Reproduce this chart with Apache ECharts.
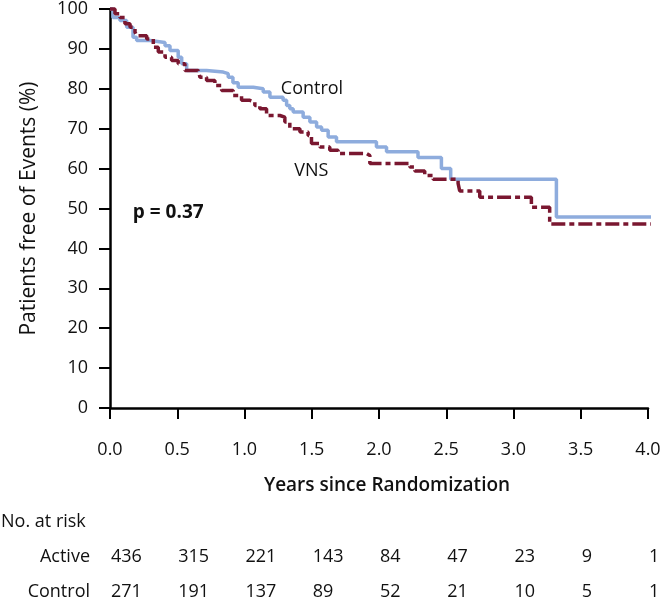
<!DOCTYPE html>
<html>
<head>
<meta charset="utf-8">
<script src="https://cdn.jsdelivr.net/npm/echarts@6/dist/echarts.min.js"></script>
<style>
  html, body { margin: 0; padding: 0; background: #fff; }
  #chart { width: 664px; height: 601px; }
</style>
</head>
<body>
<div id="chart"></div>
<script>
// Kaplan-Meier steps (years, % free of events)
const controlTimes = [0, 0.022, 0.074, 0.124, 0.171, 0.198, 0.297, 0.409, 0.446, 0.507, 0.533, 0.570, 0.718, 0.842, 0.879, 0.914, 0.953, 1.065, 1.139, 1.189, 1.287, 1.313, 1.337, 1.362, 1.436, 1.486, 1.536, 1.573, 1.622, 1.684, 1.981, 2.056, 2.290, 2.464, 2.533, 3.319, 4.098]
const controlSurv = [100, 97.9, 97.1, 95.4, 92.9, 92.1, 91.6, 90.8, 89.6, 87.9, 86.3, 84.6, 84.2, 83.8, 82.9, 81.5, 80.4, 80.0, 79.2, 77.9, 77.1, 75.8, 75.0, 74.2, 72.9, 71.7, 70.4, 69.6, 67.9, 66.7, 65.4, 64.2, 62.8, 60.0, 57.3, 47.9, 47.9]

const vnsTimes = [0, 0.037, 0.074, 0.111, 0.149, 0.186, 0.198, 0.273, 0.322, 0.359, 0.409, 0.458, 0.507, 0.557, 0.656, 0.669, 0.718, 0.780, 0.830, 0.916, 0.978, 1.040, 1.077, 1.114, 1.164, 1.263, 1.300, 1.337, 1.412, 1.473, 1.498, 1.560, 1.634, 1.696, 1.907, 1.932, 2.229, 2.266, 2.340, 2.402, 2.588, 2.600, 2.749, 3.133, 3.269, 4.098]
const vnsSurv = [100, 98.8, 97.9, 96.3, 95.4, 94.2, 93.3, 92.5, 90.4, 89.2, 87.9, 87.1, 86.3, 84.6, 84.2, 82.9, 82.1, 80.8, 79.6, 78.3, 77.1, 76.7, 75.8, 75.0, 73.3, 72.9, 71.7, 70.0, 69.2, 68.3, 66.3, 65.4, 64.6, 63.8, 63.3, 61.3, 60.4, 59.4, 58.3, 57.3, 56.3, 54.4, 52.8, 50.3, 46.1, 46.1]

// number at risk table
const riskTimes = [0, 0.5, 1, 1.5, 2, 2.5, 3, 3.5, 4]
const activeAtRisk = [436, 315, 221, 143, 84, 47, 23, 9, 1]
const controlAtRisk = [271, 191, 137, 89, 52, 21, 10, 5, 1]

const font = 'Open Sans'
const textColor = '#111'

const chart = echarts.init(document.getElementById('chart'))

const option = {
  animation: false,
  grid: { left: 110, right: 16, top: 8, bottom: 193 },
  xAxis: {
    type: 'value',
    min: 0,
    max: 4,
    interval: 0.5,
    name: 'Years since Randomization',
    nameLocation: 'middle',
    nameGap: 68,
    nameTextStyle: { fontFamily: font, fontSize: 19, fontWeight: 600, color: textColor, padding: [0, 0, 0, 16] },
    splitLine: { show: false },
    axisLine: { onZero: false, lineStyle: { color: '#000', width: 2.5 } },
    axisTick: { length: 11, lineStyle: { color: '#000', width: 2 } },
    axisLabel: {
      margin: 33,
      fontFamily: font,
      fontSize: 18,
      color: textColor,
      formatter: v => v.toFixed(1)
    }
  },
  yAxis: {
    type: 'value',
    min: 0,
    max: 100,
    interval: 10,
    name: 'Patients free of Events (%)',
    nameLocation: 'middle',
    nameGap: 70,
    nameTextStyle: { fontFamily: font, fontSize: 21, fontWeight: 500, color: textColor },
    splitLine: { show: false },
    axisLine: { show: true, lineStyle: { color: '#000', width: 2.5 } },
    axisTick: { show: true, length: 11, lineStyle: { color: '#000', width: 2 } },
    axisLabel: { margin: 22, fontFamily: font, fontSize: 18, color: textColor }
  },
  series: [
    {
      name: 'Control',
      type: 'line',
      step: 'end',
      clip: false,
      showSymbol: false,
      z: 3,
      data: controlTimes.map((t, i) => [t, controlSurv[i]]),
      lineStyle: { color: '#8eacdd', width: 3.5 }
    },
    {
      name: 'VNS',
      type: 'line',
      step: 'end',
      clip: false,
      showSymbol: false,
      z: 4,
      data: vnsTimes.map((t, i) => [t, vnsSurv[i]]),
      lineStyle: { color: '#7a1730', width: 3.5, type: [14, 4, 5, 4] }
    }
  ]
}

chart.setOption(option)

// annotations and at-risk table placed from the axis scales
const px = (x, y) => chart.convertToPixel({ gridIndex: 0 }, [x, y])
const txt = (x, y, s, extra) => ({
  type: 'text',
  x: x,
  y: y,
  style: Object.assign({ text: s, fontFamily: font, fontSize: 18, fill: textColor, align: 'center', verticalAlign: 'middle' }, extra || {})
})

const graphics = []
const cLab = px(1.27, 80)
graphics.push(txt(cLab[0], cLab[1], 'Control', { align: 'left', fontWeight: 500 }))
const vLab = px(1.37, 59.5)
graphics.push(txt(vLab[0], vLab[1], 'VNS', { align: 'left', fontWeight: 500 }))
const pLab = px(0.17, 49)
graphics.push(txt(pLab[0], pLab[1], 'p = 0.37', { align: 'left', fontWeight: 700, fontSize: 19 }))

graphics.push(txt(1, 522, 'No. at risk', { align: 'left' }))
graphics.push(txt(90, 557, 'Active', { align: 'right' }))
graphics.push(txt(90, 592, 'Control', { align: 'right' }))
riskTimes.forEach((t, i) => {
  const x = px(t, 0)[0] + 1
  graphics.push(txt(x, 557, String(activeAtRisk[i]), { align: 'left' }))
  graphics.push(txt(x, 592, String(controlAtRisk[i]), { align: 'left' }))
})

chart.setOption({ graphic: graphics })
</script>
</body>
</html>
